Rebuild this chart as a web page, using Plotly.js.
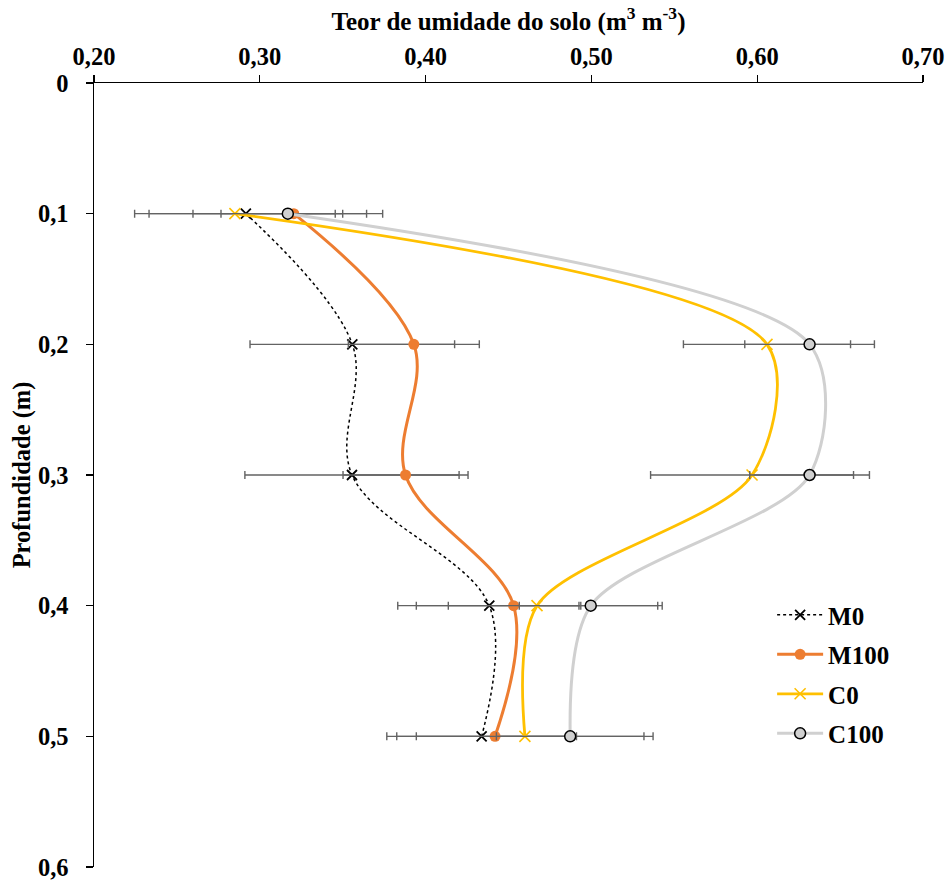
<!DOCTYPE html>
<html>
<head>
<meta charset="utf-8">
<script src="https://cdn.plot.ly/plotly-3.0.1.min.js"></script>
<style>html,body{margin:0;padding:0;background:#fff;}#chart{width:951px;height:882px;}</style>
</head>
<body>
<div id="chart"></div>
<script>
// Depth (m)
var depth = [0.1, 0.2, 0.3, 0.4, 0.5];

// Soil moisture content (m3 m-3) per treatment
var M0   = [0.2916, 0.3558, 0.3556, 0.4384, 0.4338];
var M100 = [0.3205, 0.3929, 0.3879, 0.4531, 0.4419];
var C0   = [0.2850, 0.6059, 0.5969, 0.4672, 0.4599];
var C100 = [0.3169, 0.6316, 0.6316, 0.4996, 0.4872];

// Error bars (+/-)
var errM0   = [0.0584, 0.0617, 0.0646, 0.0552, 0.0572];
var errM100 = [0.0439, 0.0395, 0.0377, 0.0394, 0.0475];
var errC0   = [0.0605, 0.0504, 0.0612, 0.0728, 0.0773];
var errC100 = [0.0572, 0.0391, 0.0361, 0.0431, 0.0445];

var seriesNames = ['M0', 'M100', 'C0', 'C100'];

var FONT = 'Liberation Serif, Times New Roman, serif';
var errStyle = {type: 'data', thickness: 1.4, width: 4, color: '#636363'};

function eb(arr) {
  return Object.assign({array: arr, visible: true}, errStyle);
}

var traces = [
  {
    name: seriesNames[0], legendgroup: 'g0', x: M0, y: depth, mode: 'lines+markers',
    line: {color: '#000000', width: 1.5, dash: 'dot', shape: 'spline', smoothing: 1},
    marker: {symbol: 'x-thin-open', size: 10, color: '#000000', line: {color: '#000000', width: 1.8}},
    error_x: eb(errM0)
  },
  {
    name: seriesNames[1], legendgroup: 'g1', x: M100, y: depth, mode: 'lines+markers',
    line: {color: '#ED7D31', width: 3, shape: 'spline', smoothing: 1},
    marker: {symbol: 'circle', size: 11, color: '#ED7D31'},
    error_x: eb(errM100)
  },
  {
    name: seriesNames[2], legendgroup: 'g2', x: C0, y: depth, mode: 'lines+markers',
    line: {color: '#FFC000', width: 2.8, shape: 'spline', smoothing: 0.85},
    marker: {symbol: 'x-thin-open', size: 11, color: '#FFC000', line: {color: '#FFC000', width: 1.6}},
    error_x: eb(errC0)
  },
  {
    name: seriesNames[3], legendgroup: 'g3', x: C100, y: depth, mode: 'lines+markers',
    line: {color: '#D0D0D0', width: 3, shape: 'spline', smoothing: 0.85},
    marker: {symbol: 'circle', size: 11, color: '#D0D0D0', line: {color: '#000000', width: 1.5}},
    error_x: eb(errC100)
  }
];

var layout = {
  width: 951, height: 882,
  margin: {l: 94, r: 28, t: 83, b: 15},
  paper_bgcolor: '#ffffff', plot_bgcolor: '#ffffff',
  separators: ', ',
  font: {family: FONT, size: 24, color: '#000000', weight: 'bold'},
  showlegend: true,
  legend: {
    x: 0.818, y: 0.3507, xanchor: 'left', yanchor: 'top',
    font: {family: FONT, size: 25, color: '#000000', weight: 'bold'},
    bgcolor: 'rgba(0,0,0,0)', itemwidth: 46, tracegroupgap: 4
  },
  xaxis: {
    side: 'top', range: [0.2, 0.7], dtick: 0.1, tick0: 0.2, tickformat: '.2f',
    showgrid: false, zeroline: false, showline: true, linecolor: '#000000', linewidth: 1.5,
    ticks: 'outside', ticklen: 7, tickwidth: 1.2, tickcolor: '#000000',
    tickfont: {family: FONT, size: 24.5, color: '#000000', weight: 'bold'},
    title: {text: 'Teor de umidade do solo (m<sup>3</sup> m<sup>-3</sup>)', standoff: 5,
            font: {family: FONT, size: 25, color: '#000000', weight: 'bold'}}
  },
  yaxis: {
    range: [0.6, 0], dtick: 0.1, tick0: 0,
    showgrid: false, zeroline: false, showline: true, linecolor: '#000000', linewidth: 1.5,
    ticks: 'outside', ticklen: 7, tickwidth: 1.2, tickcolor: '#000000',
    ticklabelstandoff: 12,
    tickfont: {family: FONT, size: 24.5, color: '#000000', weight: 'bold'},
    title: {text: 'Profundidade (m)', standoff: 0,
            font: {family: FONT, size: 24.5, color: '#000000', weight: 'bold'}}
  }
};

Plotly.newPlot('chart', traces, layout, {displayModeBar: false, staticPlot: true});
</script>
</body>
</html>
